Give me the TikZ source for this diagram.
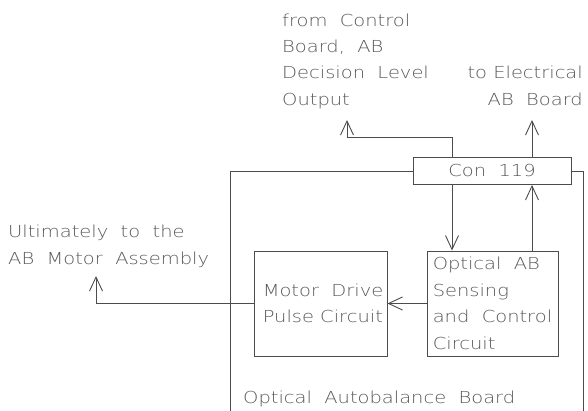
\documentclass[tikz,border=0pt]{standalone}
\usepackage{fontspec}
\setmainfont{DejaVuSans-ExtraLight.ttf}[FakeStretch=1.18]
\usetikzlibrary{arrows.meta}
\newcommand\dgfont{\fontsize{16.5}{26.5}\selectfont}
\begin{document}
\begin{tikzpicture}[x=1pt,y=-1pt,
  ln/.style={draw=black!70, line width=0.9pt},
  arr/.style={ln, -{Straight Barb[length=14pt,width=13pt,line width=0.9pt]}},
  txt/.style={text=black!65, inner sep=0pt, anchor=base west, font=\dgfont},
  btxt/.style={text=black!65, inner sep=0pt, anchor=west, align=left, font=\dgfont},
  box/.style={ln, inner sep=0pt, text=black!65, font=\dgfont}]
\useasboundingbox (0,0) rectangle (588,411);
% texts
\node[txt] (f1) at (282,27) {from~~Control};
\node[txt] (f2) at (282,53) {Board,~~AB};
\node[txt] (f3) at (282,79) {Decision~~Level};
\node[txt] (f4) at (282,106) {Output};
\node[txt, anchor=base east] (e1) at (583,79) {to Electrical};
\node[txt, anchor=base east] (e2) at (583,106) {AB~~Board};
\node[txt] (u1) at (8,238) {Ultimately~~to~~the};
\node[txt] (u2) at (8,265) {AB~~Motor~~Assembly};
\node[txt] (ob) at (243,403) {Optical~~Autobalance~~Board};
% boxes
\node[box, minimum width=158pt, minimum height=27pt] (con) at (492,171) {Con~~119};
\node[box, minimum width=133pt, minimum height=105pt] (motor) at (320.5,303.5) {};
\node[box, minimum width=131pt, minimum height=105pt] (opt) at (492.5,303.5) {};
\node[btxt] (mtxt) at ([xshift=9pt]motor.west) {Motor~~Drive\\Pulse Circuit};
\node[btxt] (otxt) at ([xshift=6pt]opt.west) {Optical~~AB\\Sensing\\and~~Control\\Circuit};
% coordinates
\coordinate (a1) at (347,120);
\coordinate (a2) at (532,120);
\coordinate (a3) at (96,276);
\coordinate (n1) at ([xshift=-40pt]con.north);
\coordinate (n2) at ([xshift=40pt]con.north);
\coordinate (c1) at ([xshift=-40pt]con.south);
\coordinate (c2) at ([xshift=40pt]con.south);
\coordinate (bl) at (230,411);
\coordinate (br) at (583,411);
% connectors
\draw[arr] (n1) -- ++(0,-20) -| (a1);
\draw[arr] (n2) -- (a2);
\draw[arr] (c1) -- (c1 |- opt.north);
\draw[arr] (c2 |- opt.north) -- (c2);
\draw[arr] (opt.west) -- (motor.east);
\draw[arr] (motor.west) -| (a3);
\draw[ln] (con.west) -| (bl);
\draw[ln] (con.east) -| (br);
\end{tikzpicture}
\end{document}
